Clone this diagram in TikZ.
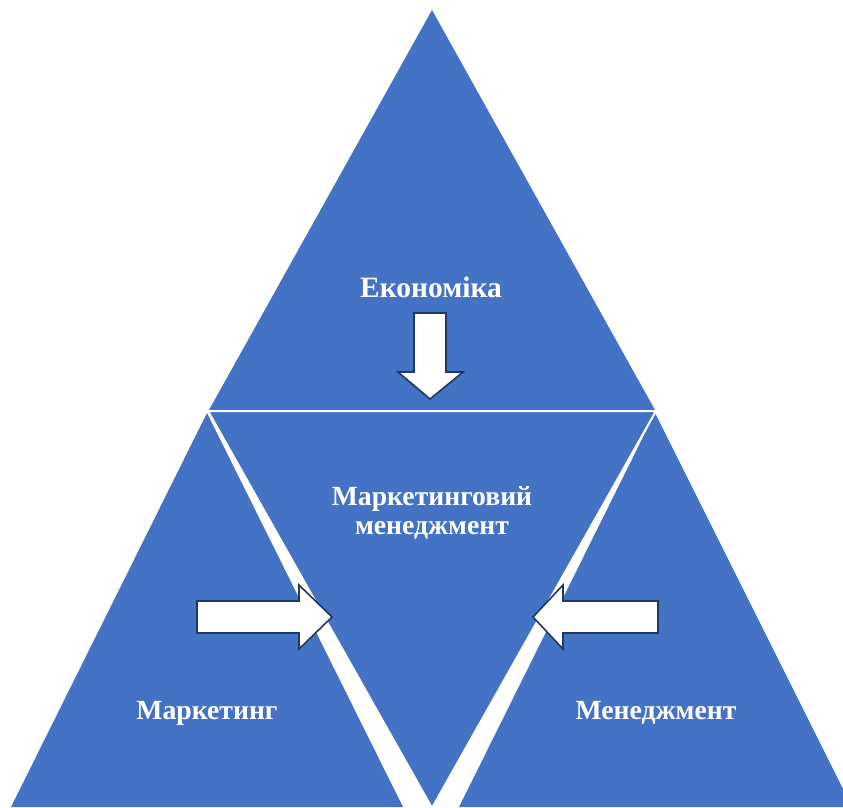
\documentclass[tikz,border=0pt]{standalone}
\usepackage{fontspec}
\setmainfont{Liberation Serif}
\definecolor{tri}{HTML}{4472C4}
\definecolor{arrowline}{HTML}{1F3864}
\tikzset{
  tribox/.style={fill=tri, draw=white, line width=2pt, line join=miter},
  blockarrow/.style={fill=white, draw=arrowline, line width=1.6pt, line join=miter},
  label/.style={text=white, font=\fontsize{27.7}{28.5}\selectfont\bfseries, anchor=base, align=center, inner sep=0pt},
  biglabel/.style={label, font=\fontsize{29.5}{30}\selectfont\bfseries}
}
\begin{document}
\begin{tikzpicture}[x=1pt, y=-1pt]
  \useasboundingbox (0,0) rectangle (843,807);
  \fill[white] (0,0) rectangle (843,807);
  \begin{scope}
    \clip (0,0) rectangle (843,807);
    % side triangles
    \fill[tri] (207,413) -- (403,807) -- (11,807) -- cycle;
    \fill[tri] (655,413) -- (852,807) -- (459,807) -- cycle;
    % top triangle
    \fill[tri] (432,10) -- (655,410) -- (209,410) -- cycle;
    % inverted centre triangle
    \draw[tribox] (208,411) -- (656,411) -- (432,808) -- cycle;
  \end{scope}
  % block arrows
  \draw[blockarrow] (414,313) -- (446,313) -- (446,372) -- (463,372) -- (430,399)
        -- (398,372) -- (414,372) -- cycle;
  \draw[blockarrow] (197,601) -- (299,601) -- (299,585) -- (332,617) -- (299,649)
        -- (299,633) -- (197,633) -- cycle;
  \draw[blockarrow] (658,601) -- (563,601) -- (563,585) -- (533,617) -- (563,649)
        -- (563,633) -- (658,633) -- cycle;
  % labels
  \node[biglabel] (econ) at (431,297) {Економіка};
  \node[label] (mm) at (432,534) {Маркетинговий\\менеджмент};
  \node[label] (mkt) at (207,719) {Маркетинг};
  \node[label] (mgmt) at (656,719) {Менеджмент};
\end{tikzpicture}
\end{document}
